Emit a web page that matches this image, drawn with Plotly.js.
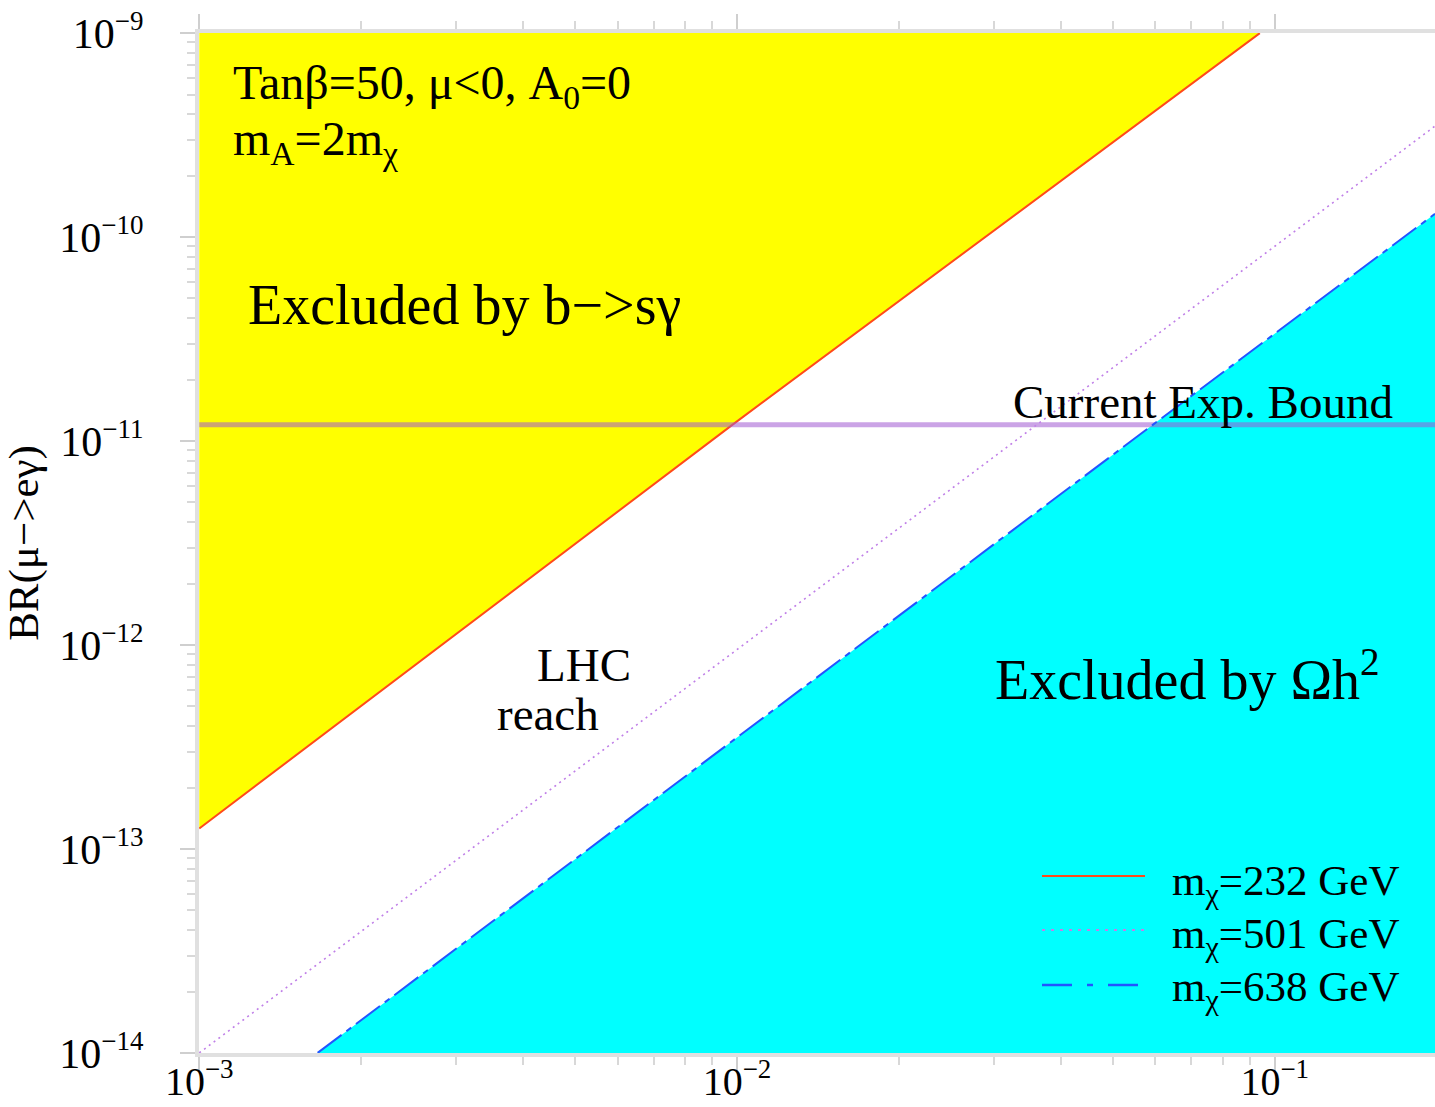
<!DOCTYPE html>
<html>
<head>
<meta charset="utf-8">
<script src="https://cdn.plot.ly/plotly-3.0.1.min.js"></script>
<style>html,body{margin:0;padding:0;background:#fff;}#chart{width:1435px;height:1107px;}</style>
</head>
<body>
<div id="chart"></div>
<script>
// ---- data ----
const xLimits = [0.001, 0.1986];          // x axis extent
const yLimits = [1e-14, 1e-9];            // y axis extent
const xTickVals = [0.001, 0.01, 0.1];
const xTickExp = ["−3", "−2", "−1"];
const yTickVals = [1e-14, 1e-13, 1e-12, 1e-11, 1e-10, 1e-9];
const yTickExp = ["−14", "−13", "−12", "−11", "−10", "−9"];
// m_chi = 232 GeV (solid red) : edge of b->s gamma exclusion
const red232X = [0.001, 0.0098, 0.0938];
const red232Y = [1.26e-13, 1.2e-11, 1e-9];
// m_chi = 501 GeV (dotted purple)
const purple501X = [0.001, 0.1986];
const purple501Y = [1e-14, 3.5e-10];
// m_chi = 638 GeV (dash-dot blue) : edge of relic density exclusion
const blue638X = [0.00166, 0.0593, 0.1986];
const blue638Y = [1e-14, 1.2e-11, 1.3e-10];
// current experimental bound
const boundX = [0.001, 0.1986];
const boundY = [1.2e-11, 1.2e-11];
const legendNames = ["m<sub>χ</sub>=232 GeV", "m<sub>χ</sub>=501 GeV", "m<sub>χ</sub>=638 GeV"];

// ---- styles ----
const SERIF = "Liberation Serif, Times New Roman, serif";
const RED = "#ff4a1a", PURPLE = "#c080e8", BLUE = "#2255ff";
const tickLabel = e => "10<sup><span style=\"font-size:27px\">" + e + "</span></sup>";

const traces = [
  { // yellow region
    x: red232X.concat([xLimits[0]]), y: red232Y.concat([yLimits[1]]),
    mode: "lines", fill: "toself", fillcolor: "#ffff00", line: {width: 0},
    hoverinfo: "skip", showlegend: false, name: "Excluded by b->sγ"
  },
  { // cyan region
    x: blue638X.concat([xLimits[1]]), y: blue638Y.concat([yLimits[0]]),
    mode: "lines", fill: "toself", fillcolor: "#00ffff", line: {width: 0},
    hoverinfo: "skip", showlegend: false, name: "Excluded by Ωh2"
  },
  { x: red232X, y: red232Y, mode: "lines", line: {color: RED, width: 2}, name: legendNames[0], showlegend: false },
  { x: boundX, y: boundY, mode: "lines", line: {color: "rgba(160,90,210,0.55)", width: 5}, name: "Current Exp. Bound", showlegend: false },
  { x: purple501X, y: purple501Y, mode: "lines", line: {color: PURPLE, width: 1.6, dash: "2px,4px"}, name: legendNames[1], showlegend: false },
  { x: blue638X, y: blue638Y, mode: "lines", line: {color: BLUE, width: 2, dash: "30px,6px,6px,6px"}, name: legendNames[2], showlegend: false }
];

// pixel -> paper helpers for layout placement
const PL = 199, PR = 1435, PT = 33, PB = 1053;
const px = v => (v - PL) / (PR - PL);
const py = v => (PB - v) / (PB - PT);

function txt(t, x, y, size) {
  return {text: t, xref: "paper", yref: "paper", x: px(x), y: py(y), xanchor: "left", yanchor: "middle",
          showarrow: false, font: {family: SERIF, size: size, color: "#000"}};
}

const annotations = [
  txt("Tanβ=50, μ<0, A<sub>0</sub>=0", 231, 86, 48),
  txt("m<sub>A</sub>=2m<sub>χ</sub>", 231, 142, 48),
  txt("Excluded by b−>sγ", 246, 305, 56),
  txt("Current Exp. Bound", 1011, 402, 47),
  txt("LHC", 535, 665, 47),
  txt("reach", 495, 714, 47),
  txt("Excluded by Ωh<sup>2</sup>", 993, 675, 56),
  txt(legendNames[0], 1170, 884, 43),
  txt(legendNames[1], 1170, 937, 43),
  txt(legendNames[2], 1170, 990, 43)
];

const shapes = [
  {type: "line", xref: "paper", yref: "paper", x0: px(1042), x1: px(1145), y0: py(876), y1: py(876), line: {color: RED, width: 2}},
  {type: "line", xref: "paper", yref: "paper", x0: px(1042), x1: px(1145), y0: py(930), y1: py(930), line: {color: PURPLE, width: 2, dash: "3px,6px"}},
  {type: "line", xref: "paper", yref: "paper", x0: px(1042), x1: px(1145), y0: py(985), y1: py(985), line: {color: BLUE, width: 2.5, dash: "30px,15px,6px,15px"}}
];

const axisCommon = {
  type: "log", tickmode: "array", showgrid: false, zeroline: false,
  ticks: "outside", ticklen: 15, tickwidth: 2, tickcolor: "#cfcfcf",
  showline: true, linecolor: "#e0e0e0", linewidth: 4, ticklabeloverflow: "allow",
  tickfont: {family: SERIF, size: 42, color: "#000"},
  minor: {ticks: "outside", ticklen: 8, tickwidth: 2, tickcolor: "#d8d8d8", dtick: "D1", showgrid: false}
};

const layout = {
  width: 1435, height: 1107,
  margin: {l: PL, r: 1435 - PR, t: PT, b: 1107 - PB},
  paper_bgcolor: "#fff", plot_bgcolor: "#fff",
  showlegend: false,
  xaxis: Object.assign({}, axisCommon, {range: [Math.log10(xLimits[0]) - 0.0005, Math.log10(xLimits[1])], mirror: "ticks",
    tickvals: xTickVals, ticktext: xTickExp.map(tickLabel), ticklabelstandoff: -25,
    tickfont: {family: SERIF, size: 40, color: "#000"}}),
  yaxis: Object.assign({}, axisCommon, {range: [Math.log10(yLimits[0]) - 0.0005, Math.log10(yLimits[1]) + 0.0005],
    tickvals: yTickVals, ticktext: yTickExp.map(tickLabel), ticklabelstandoff: 28,
    title: {text: "BR(μ−>eγ)", font: {family: SERIF, size: 43, color: "#000"}, standoff: 10}}),
  annotations: annotations,
  shapes: shapes
};

Plotly.newPlot("chart", traces, layout, {displayModeBar: false, staticPlot: true});
</script>
</body>
</html>
